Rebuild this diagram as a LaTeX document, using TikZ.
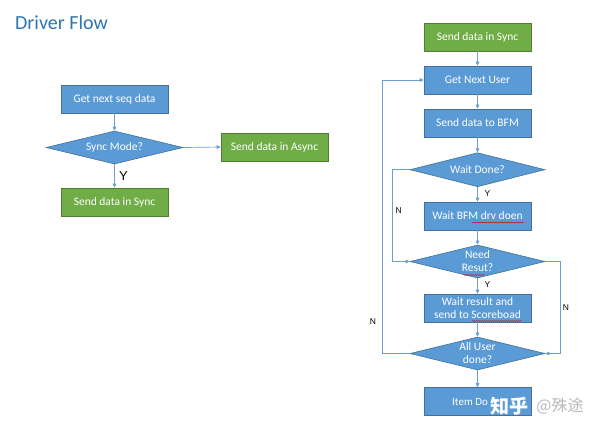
\documentclass[tikz,border=0pt]{standalone}
\usepackage{fontspec}
\setmainfont{Carlito}
\newfontfamily\arialf{Liberation Sans}
\newfontfamily\cjkf{Noto Sans CJK SC}
\usetikzlibrary{shapes.geometric,arrows.meta,decorations.pathmorphing}
\definecolor{boxblue}{HTML}{5B9BD5}
\definecolor{boxblueline}{HTML}{41719C}
\definecolor{boxgreen}{HTML}{70AD47}
\definecolor{boxgreenline}{HTML}{507E32}
\definecolor{titleblue}{HTML}{2E75B6}
\definecolor{arrowblue}{HTML}{6A9FD3}
\begin{document}
\begin{tikzpicture}[x=1pt,y=-1pt,
  bluebox/.style={rectangle,fill=boxblue,draw=boxblueline,line width=0.6pt,minimum width=107pt,minimum height=28pt,inner sep=0pt,text=white,font=\fontsize{11.5}{13}\selectfont,align=center},
  greenbox/.style={bluebox,fill=boxgreen,draw=boxgreenline},
  dia/.style={diamond,fill=boxblue,draw=boxblueline,line width=0.6pt,minimum width=135pt,minimum height=33pt,inner sep=0pt},
  diatext/.style={text=white,font=\fontsize{11.5}{13}\selectfont,align=center,inner sep=0pt},
  arr/.style={draw=arrowblue,line width=0.7pt,-{Triangle[length=4pt,width=3.6pt]}},
  lab/.style={font=\arialf\fontsize{8.5}{9}\selectfont,inner sep=0pt},
  squig/.style={draw=red!85!black,line width=0.4pt,decorate,decoration={snake,amplitude=0.45pt,segment length=2pt}}
]
\useasboundingbox (0,0) rectangle (600,432);
\fill[white] (0,0) rectangle (600,432);

% title
\node[anchor=base west,inner sep=0pt,text=titleblue,font=\fontsize{20}{22}\selectfont] (title) at (15,29.3) {Driver Flow};

% left flow
\node[bluebox] (gnsd) at (114.5,99) {Get next seq data};
\node[dia,minimum width=137pt] (sync) at (114.5,147.5) {};
\node[diatext] at (sync) {Sync Mode?};
\node[greenbox] (async) at (274.5,147) {Send data in Async};
\node[greenbox] (lsync) at (114.5,202) {Send data in Sync};
\draw[arr] (gnsd) -- (sync);
\draw[arr] (sync) -- (lsync);
\draw[arr] (sync.east) -- (async.west);
\node[lab,font=\arialf\fontsize{13}{14}\selectfont] (ly) at (123.5,176) {Y};

% right flow
\node[greenbox] (rsync) at (477.5,37) {Send data in Sync};
\node[bluebox] (gnu) at (477.5,80) {Get Next User};
\node[bluebox] (sbfm) at (477.5,123) {Send data to BFM};
\node[dia,minimum height=34pt] (wd) at (477.5,169.7) {};
\node[diatext] at (wd) {Wait Done?};
\node[bluebox] (wbfm) at (477.5,216) {Wait BFM drv doen};
\node[dia] (nr) at (477.5,261.5) {};
\node[diatext] at (nr) {Need\\Resut?};
\node[bluebox] (wr) at (477.5,308) {Wait result and\\send to Scoreboad};
\node[dia] (au) at (477.5,353.5) {};
\node[diatext] at (au) {All User\\done?};
\node[bluebox] (id) at (477.5,401.5) {};
\node[anchor=west,inner sep=0pt,text=white,font=\fontsize{11}{12}\selectfont] (idt) at (452,402) {Item Do};

\draw[arr] (rsync) -- (gnu);
\draw[arr] (gnu) -- (sbfm);
\draw[arr] (sbfm) -- (wd);
\draw[arr] (wd) -- (wbfm);
\draw[arr] (wbfm) -- (nr);
\draw[arr] (nr) -- (wr);
\draw[arr] (wr) -- (au);
\draw[arr] (au) -- (id);

\draw[arr] (au.west) -- ([xshift=-27pt]au.west) |- (gnu.west);
\draw[arr] (wd.west) -- ([xshift=-17pt]wd.west) |- (nr.west);
\draw[arr] (nr.east) -- ([xshift=15pt]nr.east) |- (au.east);

\node[lab] (y1) at (487.5,194) {Y};
\node[lab] (y2) at (487.5,285) {Y};
\node[lab] (n1) at (398.7,211) {N};
\node[lab] (n2) at (373,322) {N};
\node[lab] (n3) at (566,308) {N};

% spell-check squiggles
\draw[squig] (472,222.5) -- (524,222.5);
\draw[squig] (463,275) -- (485,275);
\draw[squig] (472,321) -- (522,321);

% watermark
\node[inner sep=0pt,text=white,font=\cjkf\bfseries\fontsize{19}{19}\selectfont] (wm1) at (509,406.5) {知乎};
\node[inner sep=0pt,text=gray!55,font=\cjkf\fontsize{16}{16}\selectfont] (wm2) at (560,406.5) {@殊途};
\end{tikzpicture}
\end{document}
